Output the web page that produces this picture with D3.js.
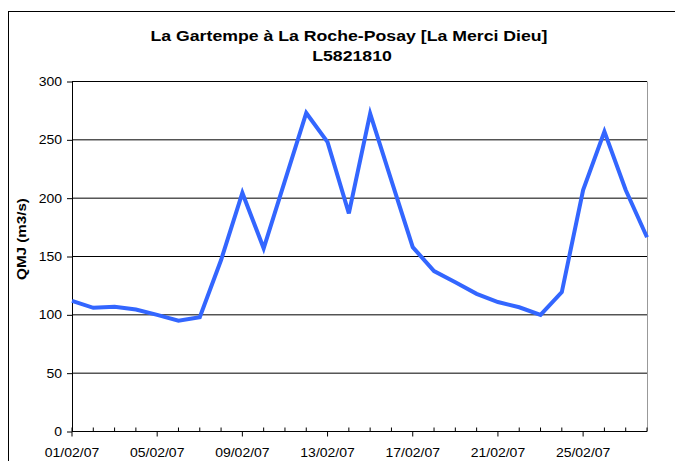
<!DOCTYPE html>
<html lang="fr">
<head>
<meta charset="utf-8">
<title>QMJ La Gartempe</title>
<script src="https://d3js.org/d3.v7.min.js"></script>
<style>
  body { margin: 0; background: #fff; }
  text { font-family: Arial, "Liberation Sans", sans-serif; }
</style>
</head>
<body>
<script>
// daily dates (dd/mm/yy) and flows
const dates = ["01/02/07","02/02/07","03/02/07","04/02/07","05/02/07","06/02/07","07/02/07",
               "08/02/07","09/02/07","10/02/07","11/02/07","12/02/07","13/02/07","14/02/07",
               "15/02/07","16/02/07","17/02/07","18/02/07","19/02/07","20/02/07","21/02/07",
               "22/02/07","23/02/07","24/02/07","25/02/07","26/02/07","27/02/07","28/02/07"];
const qmj = [112, 106, 107, 104.5, 100, 95, 98,
             147, 204.5, 157, 215, 273, 248, 187,
             272.5, 215, 158, 137.5, 128, 118, 111,
             106.5, 100, 119.5, 207, 257, 207, 166.5];
const yTicks = [0, 50, 100, 150, 200, 250, 300];
const labelDates = ["01/02/07","05/02/07","09/02/07","13/02/07","17/02/07","21/02/07","25/02/07"];

const width = 675, height = 461;
const plot = { left: 72, right: 647, top: 81.5, bottom: 431.5 };
const stretch = 1.12;   // source text is a bit wider than Arial

const svg = d3.select("body").append("svg")
  .attr("width", width)
  .attr("height", height);

// outer chart frame (cut at right/bottom like the source)
svg.append("rect")
  .attr("x", 8.5).attr("y", 11.5)
  .attr("width", 700).attr("height", 500)
  .attr("fill", "none").attr("stroke", "#000").attr("stroke-width", 1);

const x = d3.scalePoint().domain(dates).range([plot.left, plot.right]);
const y = d3.scaleLinear().domain([0, 300]).range([plot.bottom, plot.top]);

// gridlines
svg.append("g").selectAll("line")
  .data(yTicks.filter(d => d > 0))
  .join("line")
    .attr("x1", plot.left).attr("x2", plot.right)
    .attr("y1", d => y(d)).attr("y2", d => y(d))
    .attr("stroke", "#000").attr("stroke-width", 1);

// right border of plot area
svg.append("line")
  .attr("x1", plot.right + 0.5).attr("x2", plot.right + 0.5)
  .attr("y1", plot.top).attr("y2", plot.bottom)
  .attr("stroke", "#999");

// y axis
const yAxis = svg.append("g")
  .attr("transform", "translate(" + plot.left + ",0)")
  .call(d3.axisLeft(y).tickValues(yTicks).tickSize(5).tickSizeOuter(0).tickPadding(0));
yAxis.select(".domain").attr("stroke", "#000");
yAxis.selectAll("text")
  .attr("x", null)
  .attr("transform", "translate(-10,0) scale(" + stretch + ",1)")
  .attr("font-size", "12.5px").attr("fill", "#000")
  .attr("font-family", "Arial, 'Liberation Sans', sans-serif");

// x axis : minor ticks inside, labelled ticks outside
const xg = svg.append("g").attr("transform", "translate(0," + plot.bottom + ")");
xg.append("line")
  .attr("x1", plot.left).attr("x2", plot.right)
  .attr("stroke", "#000");
xg.selectAll(".minor")
  .data(dates.filter(d => labelDates.indexOf(d) < 0 || d === dates[0]))
  .join("line").attr("class", "minor")
    .attr("x1", d => x(d)).attr("x2", d => x(d))
    .attr("y1", -4).attr("y2", 0)
    .attr("stroke", "#000");
xg.selectAll(".major")
  .data(labelDates)
  .join("line").attr("class", "major")
    .attr("x1", d => x(d)).attr("x2", d => x(d))
    .attr("y1", 0).attr("y2", 5)
    .attr("stroke", "#000");
xg.selectAll("text")
  .data(labelDates)
  .join("text")
    .attr("transform", d => "translate(" + x(d) + ",25.5) scale(" + stretch + ",1)")
    .attr("text-anchor", "middle")
    .attr("font-size", "12.5px")
    .text(d => d);

// data line
const line = d3.line()
  .x((d, i) => x(dates[i]))
  .y(d => y(d));

svg.append("path")
  .datum(qmj)
  .attr("d", line)
  .attr("fill", "none")
  .attr("stroke", "#3366ff")
  .attr("stroke-width", 4)
  .attr("stroke-linejoin", "miter");

// titles
svg.append("text")
  .attr("transform", "translate(349,41) scale(1.18,1)")
  .attr("text-anchor", "middle")
  .attr("font-size", "15px").attr("font-weight", "bold")
  .text("La Gartempe à La Roche-Posay [La Merci Dieu]");
svg.append("text")
  .attr("transform", "translate(352,61) scale(1.18,1)")
  .attr("text-anchor", "middle")
  .attr("font-size", "15px").attr("font-weight", "bold")
  .text("L5821810");

svg.append("text")
  .attr("transform", "translate(25.5,239) rotate(-90) scale(1.17,1)")
  .attr("text-anchor", "middle")
  .attr("font-size", "13px").attr("font-weight", "bold")
  .text("QMJ (m3/s)");
</script>
</body>
</html>
